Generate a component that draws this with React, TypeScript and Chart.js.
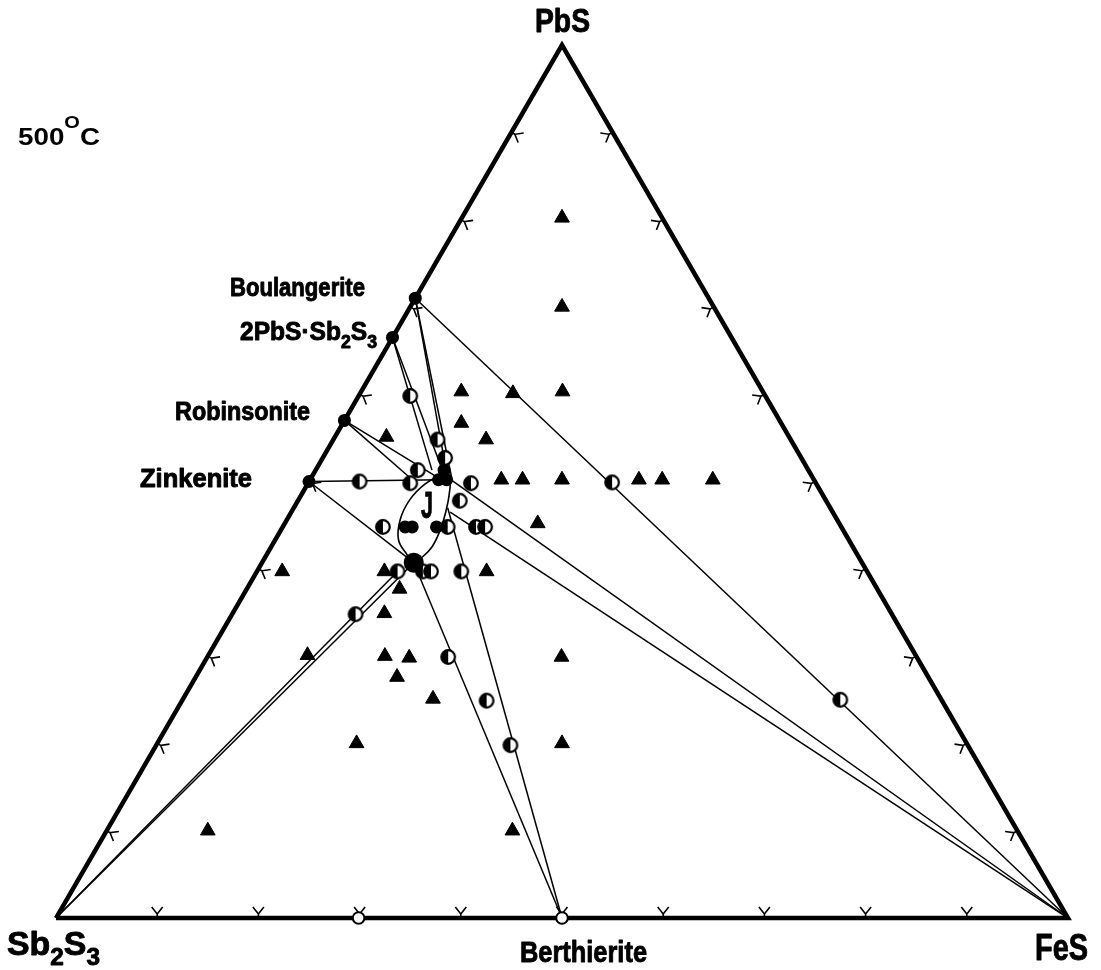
import React, { useEffect, useRef } from 'react';
import { Chart, registerables } from 'chart.js';

Chart.register(...registerables);

// Compositions in mol %: PbS and FeS (the remainder is Sb2S3)
const TICK_STEPS = [10, 20, 30, 40, 50, 60, 70, 80, 90];

// filled triangles
const triPbS = [80.2, 70.0, 60.3, 60.1, 60.3, 55.1, 56.7, 54.8, 50.2, 50.2, 50.2, 50.2, 50.2, 50.2, 45.2, 39.7, 39.7, 39.7, 37.7, 34.9, 30.1, 30.0, 29.8, 27.6, 29.9, 25.1, 20.0, 20.0, 10.0, 10.0];
const triFeS = [9.9, 15.0, 9.9, 15.1, 19.9, 5.1, 11.7, 15.1, 18.9, 21.0, 24.9, 32.5, 34.8, 39.8, 25.0, 2.5, 12.6, 22.7, 15.1, 15.0, 9.8, 17.5, 20.0, 19.9, 35.0, 24.7, 19.7, 40.0, 10.0, 40.1];

// half-filled circles
const halfPbS = [50.0, 49.8, 51.3, 59.8, 54.8, 52.7, 49.8, 47.8, 44.8, 44.8, 44.8, 44.8, 39.7, 39.7, 39.7, 39.7, 34.8, 29.9, 24.9, 19.8, 49.9, 25.0];
const halfFeS = [5.0, 10.1, 10.1, 5.1, 10.3, 12.1, 16.1, 16.0, 9.9, 16.3, 19.1, 20.0, 13.9, 16.4, 17.2, 20.2, 12.2, 23.8, 30.1, 35.0, 30.0, 65.0];

// open circles (on the Sb2S3-FeS join)
const openPbS = [0, 0];
const openFeS = [29.9, 50.0];

// phases on the PbS-Sb2S3 join
const phaseNames = ['Boulangerite', '2PbS·Sb2S3', 'Robinsonite', 'Zinkenite'];
const phasePbS = [71.0, 66.5, 57.0, 50.0];
const phaseFeS = [0, 0, 0, 0];

// filled circles near the invariant region J
const dotPbS = [51.3, 50.2, 50.2, 44.8, 44.8, 44.8];
const dotFeS = [12.7, 12.7, 13.5, 12.1, 12.8, 15.2];
const bigDotPbS = [40.7];
const bigDotFeS = [15.0];

// tie lines: [PbS, FeS] start and end
const tieStart: [number, number][] = [
  [71.0, 0], [71.0, 0], [71.0, 0], [66.5, 0], [66.5, 0], [57.0, 0], [57.0, 0],
  [50.0, 0], [50.0, 0], [0, 0], [0, 0], [0, 50], [0, 50], [0, 100], [0, 100],
];
const tieEnd: [number, number][] = [
  [0, 100], [51.3, 12.9], [50.4, 13.9], [51.3, 11.5], [51.1, 12.7], [50.3, 12.8], [50.0, 10.4],
  [50.2, 12.95], [40.7, 15.0], [40.7, 15.0], [39.7, 13.9], [40.7, 15.0], [47.0, 15.2], [50.1, 14.1], [46.5, 15.7],
];

// boundary curves of the liquid field J
const leftArcPbS = [50.9, 49.7, 47.9, 45.6, 43.3, 41.6, 40.7];
const leftArcFeS = [12.8, 11.6, 11.0, 11.2, 12.2, 13.9, 15.0];
const rightArcPbS = [50.9, 50.4, 48.5, 46.7, 44.7, 42.5, 41.1, 40.7];
const rightArcFeS = [12.8, 13.7, 14.6, 15.2, 15.7, 15.9, 15.4, 15.0];

const tern = (p: number, f: number) => ({ x: f + p / 2, y: p });
const pts = (P: number[], F: number[]) => P.map((p, i) => tern(p, F[i]));

type Part = { t: string; k?: 'sub' | 'sup' };
const FONT = '"Liberation Sans Narrow", "Liberation Sans", "DejaVu Sans", sans-serif';

function drawRich(ctx: CanvasRenderingContext2D, parts: Part[], x: number, base: number, size: number, width: number, heavy = true) {
  const small = size * 0.72;
  const f = (s: number) => `bold ${s}px ${FONT}`;
  let natural = 0;
  for (const p of parts) {
    ctx.font = f(p.k ? small : size);
    natural += ctx.measureText(p.t).width;
  }
  const sx = width / natural;
  ctx.save();
  ctx.translate(x, base);
  ctx.scale(sx, 1);
  ctx.fillStyle = '#000';
  ctx.strokeStyle = '#000';
  ctx.lineWidth = 0.9;
  ctx.lineJoin = 'round';
  ctx.textAlign = 'left';
  ctx.textBaseline = 'alphabetic';
  let cx = 0;
  for (const p of parts) {
    ctx.font = f(p.k ? small : size);
    const dy = p.k === 'sub' ? size * 0.3 : p.k === 'sup' ? -size * 0.74 : 0;
    ctx.fillText(p.t, cx, dy);
    if (heavy) ctx.strokeText(p.t, cx, dy);
    cx += ctx.measureText(p.t).width;
  }
  ctx.restore();
}

export default function App() {
  const ref = useRef<HTMLCanvasElement>(null);

  useEffect(() => {
    document.body.style.margin = '0';
    const canvas = ref.current!;

    const half = document.createElement('canvas');
    half.width = 20;
    half.height = 20;
    const h = half.getContext('2d')!;
    h.beginPath();
    h.arc(10, 10, 6.8, 0, Math.PI * 2);
    h.fillStyle = '#fff';
    h.fill();
    h.beginPath();
    h.moveTo(10, 10);
    h.arc(10, 10, 6.8, Math.PI / 2, Math.PI * 1.5);
    h.closePath();
    h.fillStyle = '#000';
    h.fill();
    h.beginPath();
    h.arc(10, 10, 6.8, 0, Math.PI * 2);
    h.lineWidth = 2.2;
    h.strokeStyle = '#000';
    h.stroke();

    const datasets: any[] = [];
    const marker = (data: any[], extra: any, order: number) => ({
      data, showLine: false, order, ...extra,
    });
    datasets.push(marker(pts(bigDotPbS, bigDotFeS), { pointStyle: 'circle', pointRadius: 10, backgroundColor: '#000', borderColor: '#000', borderWidth: 0 }, 0));
    datasets.push(marker(pts(dotPbS, dotFeS), { pointStyle: 'circle', pointRadius: 6.5, backgroundColor: '#000', borderColor: '#000', borderWidth: 0 }, 1));
    datasets.push(marker(pts(phasePbS, phaseFeS), { label: phaseNames.join(','), pointStyle: 'circle', pointRadius: 6.5, backgroundColor: '#000', borderColor: '#000', borderWidth: 0 }, 2));
    datasets.push(marker(pts(halfPbS, halfFeS), { pointStyle: half, pointRadius: 7 }, 3));
    datasets.push(marker(pts(openPbS, openFeS), { pointStyle: 'circle', pointRadius: 5.8, backgroundColor: '#fff', borderColor: '#000', borderWidth: 2 }, 4));
    datasets.push(marker(pts(triPbS, triFeS), { pointStyle: 'triangle', pointRadius: 8.5, backgroundColor: '#000', borderColor: '#000', borderWidth: 1 }, 5));

    // triangle frame
    datasets.push({
      data: [tern(0, 0), tern(100, 0), tern(0, 100), tern(0, 0)],
      showLine: true, borderColor: '#000', borderWidth: 4.5, pointRadius: 0, borderJoinStyle: 'miter', order: 30,
    });
    tieStart.forEach((s, i) => {
      const e = tieEnd[i];
      datasets.push({
        data: [tern(s[0], s[1]), tern(e[0], e[1])],
        showLine: true, borderColor: '#000', borderWidth: 1.5, pointRadius: 0, order: 20,
      });
    });
    datasets.push({ data: pts(leftArcPbS, leftArcFeS), showLine: true, tension: 0.4, borderColor: '#000', borderWidth: 1.6, pointRadius: 0, order: 20 });
    datasets.push({ data: pts(rightArcPbS, rightArcFeS), showLine: true, tension: 0.4, borderColor: '#000', borderWidth: 1.6, pointRadius: 0, order: 20 });

    const bg = {
      id: 'bg',
      beforeDraw(c: any) {
        const ctx = c.ctx;
        ctx.save();
        ctx.fillStyle = '#fff';
        ctx.fillRect(0, 0, c.width, c.height);
        ctx.restore();
      },
    };

    const ticks = {
      id: 'ticks',
      beforeDatasetsDraw(c: any) {
        const ctx = c.ctx as CanvasRenderingContext2D;
        const sx = c.scales.x, sy = c.scales.y;
        const px = (p: number, f: number) => {
          const t = tern(p, f);
          return [sx.getPixelForValue(t.x), sy.getPixelForValue(t.y)];
        };
        const S = px(0, 0), F = px(0, 100), P = px(100, 0);
        const edges = [[S, F, P], [S, P, F], [F, P, S]];
        ctx.save();
        ctx.strokeStyle = '#000';
        ctx.lineWidth = 1.6;
        for (const [A, B, C] of edges) {
          const len = Math.hypot(B[0] - A[0], B[1] - A[1]);
          const ux = (B[0] - A[0]) / len, uy = (B[1] - A[1]) / len;
          let nx = -uy, ny = ux;
          const mx = (A[0] + B[0]) / 2, my = (A[1] + B[1]) / 2;
          if ((C[0] - mx) * nx + (C[1] - my) * ny < 0) { nx = -nx; ny = -ny; }
          for (const s of TICK_STEPS) {
            const t = s / 100;
            const x0 = A[0] + (B[0] - A[0]) * t, y0 = A[1] + (B[1] - A[1]) * t;
            const x1 = x0 + nx * 4, y1 = y0 + ny * 4;
            ctx.beginPath();
            ctx.moveTo(x0, y0);
            ctx.lineTo(x1, y1);
            ctx.moveTo(x1 + nx * 7 + ux * 5.5, y1 + ny * 7 + uy * 5.5);
            ctx.lineTo(x1, y1);
            ctx.lineTo(x1 + nx * 7 - ux * 5.5, y1 + ny * 7 - uy * 5.5);
            ctx.stroke();
          }
        }
        ctx.restore();
      },
    };

    const labels = {
      id: 'labels',
      afterDraw(c: any) {
        const ctx = c.ctx as CanvasRenderingContext2D;
        drawRich(ctx, [{ t: 'PbS' }], 535, 32, 33, 55);
        drawRich(ctx, [{ t: '500' }, { t: 'O', k: 'sup' }, { t: 'C' }], 18, 145, 23, 82, false);
        drawRich(ctx, [{ t: 'Boulangerite' }], 230, 296, 25, 135);
        drawRich(ctx, [{ t: '2PbS·Sb' }, { t: '2', k: 'sub' }, { t: 'S' }, { t: '3', k: 'sub' }], 240, 340, 25, 137);
        drawRich(ctx, [{ t: 'Robinsonite' }], 175, 420, 25, 135);
        drawRich(ctx, [{ t: 'Zinkenite' }], 140, 487, 25, 112);
        drawRich(ctx, [{ t: 'J' }], 421, 518, 36, 12);
        drawRich(ctx, [{ t: 'Sb' }, { t: '2', k: 'sub' }, { t: 'S' }, { t: '3', k: 'sub' }], 7, 955, 34, 93);
        drawRich(ctx, [{ t: 'Berthierite' }], 520, 962, 30, 127);
        drawRich(ctx, [{ t: 'FeS' }], 1035, 960, 37, 53);
      },
    };

    const chart = new Chart(canvas, {
      type: 'scatter',
      data: { datasets },
      options: {
        animation: false,
        responsive: false,
        maintainAspectRatio: false,
        events: [],
        layout: { padding: 0, autoPadding: false },
        plugins: { legend: { display: false }, tooltip: { enabled: false }, title: { display: false } },
        scales: {
          x: { type: 'linear', min: -5.534, max: 103.261, display: false },
          y: { type: 'linear', min: -5.956, max: 105.155, display: false },
        },
      } as any,
      plugins: [bg, ticks, labels],
    });
    return () => chart.destroy();
  }, []);

  return (
    <div style={{ position: 'absolute', left: 0, top: 0, width: 1101, height: 970 }}>
      <canvas ref={ref} width={1101} height={970} style={{ display: 'block', width: 1101, height: 970 }} />
    </div>
  );
}
